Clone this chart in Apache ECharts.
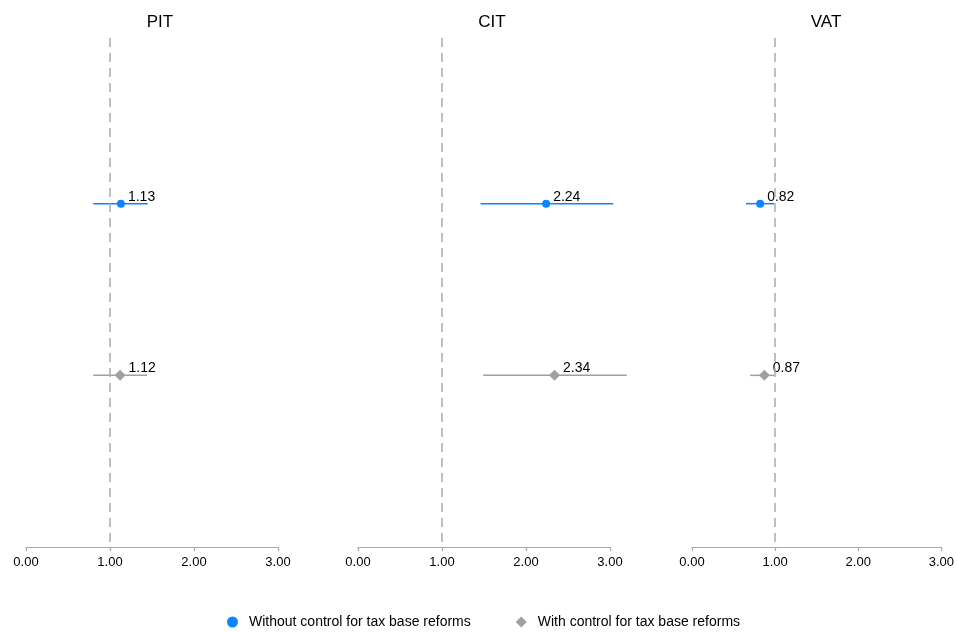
<!DOCTYPE html>
<html>
<head>
<meta charset="utf-8">
<script src="https://cdn.jsdelivr.net/npm/echarts@6/dist/echarts.min.js"></script>
<style>
  html, body { margin: 0; padding: 0; background: #fff; }
  #chart { width: 957px; height: 632px; }
</style>
</head>
<body>
<div id="chart"></div>
<script>
// panels and estimates
var taxes = ["PIT", "CIT", "VAT"]
var seriesNames = ["Without control for tax base reforms", "With control for tax base reforms"]
var estWithout = [1.13, 2.24, 0.82]
var loWithout = [0.80, 1.46, 0.65]
var hiWithout = [1.45, 3.04, 0.99]
var estWith = [1.12, 2.34, 0.87]
var loWith = [0.80, 1.49, 0.70]
var hiWith = [1.44, 3.20, 0.99]
var xTicks = [0, 1, 2, 3]
var rowPos = [1, 2] // row of each model on the hidden y axis

var blue = "#0a84ff"
var grey = "#a0a0a0"
var font = "Liberation Sans, Arial, sans-serif"
var panelLeft = [26, 358, 692]
var panelWidth = 252

var myChart = echarts.init(document.getElementById("chart"))

var grids = [], xAxes = [], yAxes = [], titles = [], series = []

function ciSeries(name, i, lo, hi, row, color) {
  return {
    name: name,
    type: "custom",
    xAxisIndex: i,
    yAxisIndex: i,
    silent: true,
    itemStyle: { color: color },
    data: [[lo, hi, row]],
    renderItem: function (params, api) {
      var a = api.coord([api.value(0), api.value(2)])
      var b = api.coord([api.value(1), api.value(2)])
      return {
        type: "line",
        shape: { x1: a[0], y1: a[1], x2: b[0], y2: b[1] },
        style: { stroke: color, lineWidth: 1.5 }
      }
    },
    z: 2
  }
}

function pointSeries(name, i, est, row, color, symbol, size) {
  return {
    name: name,
    type: "scatter",
    xAxisIndex: i,
    yAxisIndex: i,
    symbol: symbol,
    symbolSize: size,
    itemStyle: { color: color, opacity: 1 },
    data: [[est, row]],
    label: {
      show: true,
      position: "right",
      distance: 3,
      offset: [0, -7],
      color: "#000",
      opacity: 1,
      fontSize: 14,
      fontFamily: font,
      formatter: function (p) {
        return p.value[0].toFixed(2)
      }
    },
    z: 3
  }
}

taxes.forEach(function (tax, i) {
  grids.push({ left: panelLeft[i], width: panelWidth, top: 32, bottom: 85 })
  titles.push({
    text: tax,
    left: panelLeft[i] + panelWidth / 2 + 3,
    top: 9,
    textAlign: "center",
    textStyle: { fontSize: 17, fontWeight: "normal", color: "#000", fontFamily: font }
  })
  xAxes.push({
    type: "value",
    gridIndex: i,
    position: "bottom",
    min: xTicks[0],
    max: xTicks[xTicks.length - 1],
    interval: 1,
    splitLine: { show: false },
    axisLine: { show: true, onZero: false, lineStyle: { color: "#aaa", width: 1.2 } },
    axisTick: { show: true, length: 4, lineStyle: { color: "#aaa", width: 1.2 } },
    axisLabel: {
      color: "#000",
      fontSize: 13,
      fontFamily: font,
      margin: 9,
      formatter: function (v) { return v.toFixed(2) }
    }
  })
  yAxes.push({
    type: "value",
    gridIndex: i,
    min: 0,
    max: 3,
    inverse: true,
    show: false
  })

  series.push(ciSeries(seriesNames[0], i, loWithout[i], hiWithout[i], rowPos[0], blue))
  series.push(ciSeries(seriesNames[1], i, loWith[i], hiWith[i], rowPos[1], grey))
  var s0 = pointSeries(seriesNames[0], i, estWithout[i], rowPos[0], blue, "circle", 8)
  // reference line at 1
  s0.markLine = {
    silent: true,
    symbol: "none",
    label: { show: false },
    lineStyle: { color: "#aaa", type: [9, 6], dashOffset: 9, width: 1.5, opacity: 1 },
    data: [{ xAxis: 1 }]
  }
  series.push(s0)
  series.push(pointSeries(seriesNames[1], i, estWith[i], rowPos[1], grey, "diamond", 11))
})

var option = {
  backgroundColor: "#fff",
  animation: false,
  title: titles,
  grid: grids,
  xAxis: xAxes,
  yAxis: yAxes,
  legend: {
    top: 610,
    left: 222,
    itemWidth: 11,
    itemHeight: 11,
    itemGap: 45,
    textStyle: { fontSize: 14, color: "#000", fontFamily: font, padding: [0, 0, 0, 6] },
    data: [
      { name: seriesNames[0], icon: "circle", itemStyle: { color: blue } },
      { name: seriesNames[1], icon: "diamond", itemStyle: { color: grey } }
    ]
  },
  series: series
}
myChart.setOption(option)
</script>
</body>
</html>
